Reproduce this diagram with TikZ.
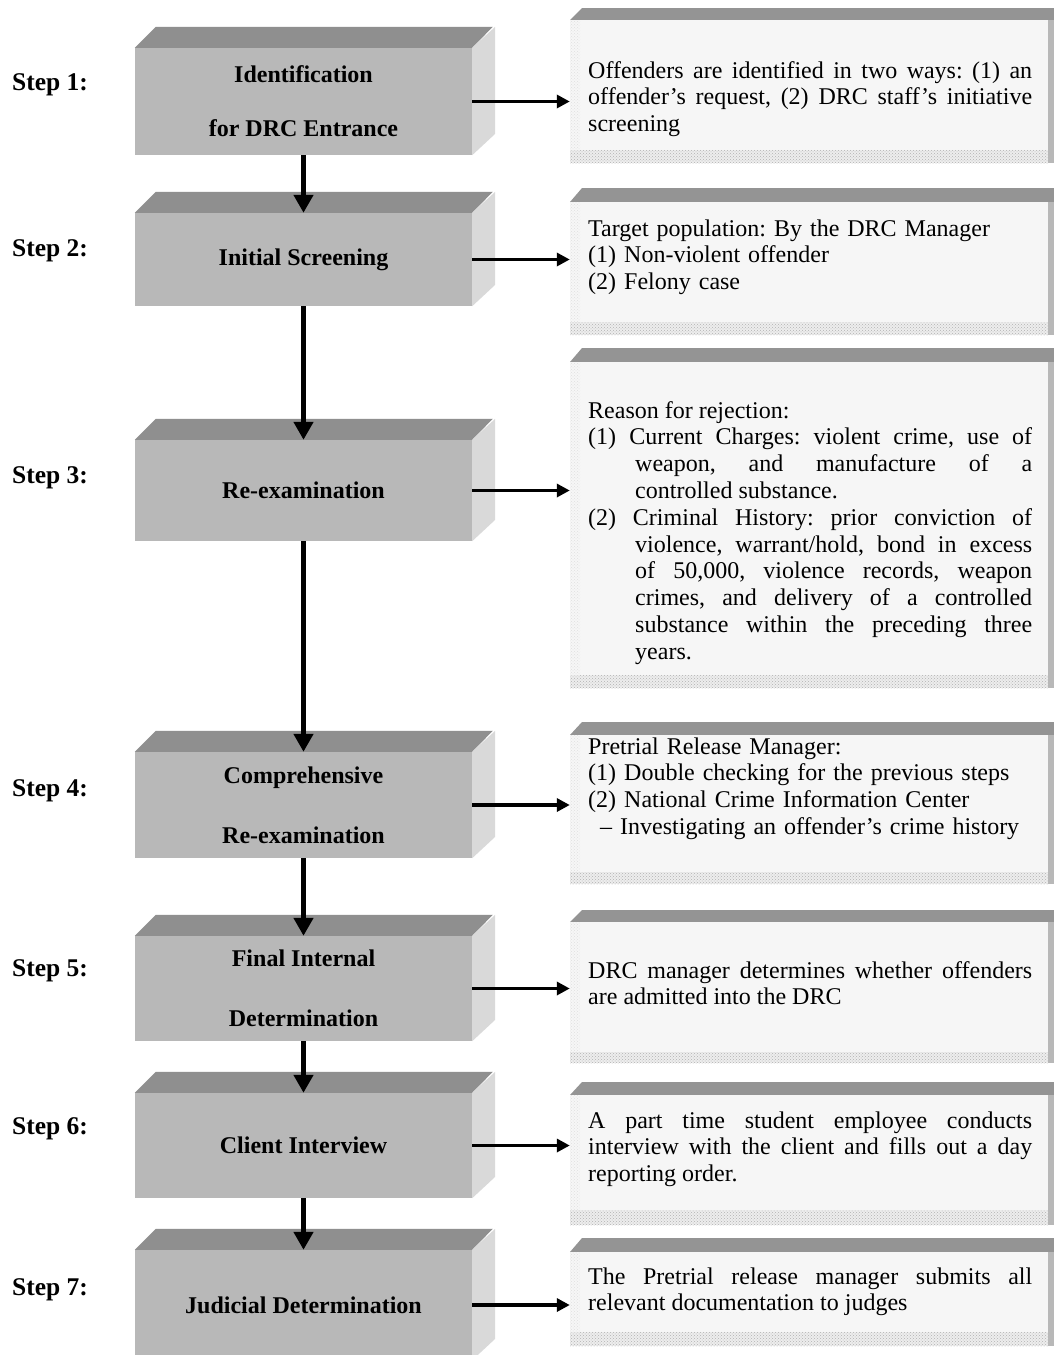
\documentclass[tikz,border=0pt]{standalone}
\usepackage{fontspec}
\setmainfont{Liberation Serif}
\usetikzlibrary{arrows.meta,patterns}
\frenchspacing
\hyphenpenalty=10000 \exhyphenpenalty=10000 \tolerance=10000 \hbadness=10000 \hfuzz=30pt
\definecolor{facec}{gray}{0.72}
\definecolor{topc}{gray}{0.56}
\definecolor{sidec}{gray}{0.85}
\definecolor{bandc}{gray}{0.58}
\definecolor{bodyc}{gray}{0.965}
\definecolor{stripc}{gray}{0.93}
\definecolor{rsidec}{gray}{0.72}
\tikzset{
  face/.style={rectangle, fill=facec, inner sep=0pt, minimum width=337pt, align=center,
    font=\fontsize{24}{28}\selectfont\bfseries},
  rbody/.style={rectangle, fill=bodyc, inner sep=0pt, minimum width=478pt},
  steplabel/.style={anchor=base west, inner sep=0pt, font=\fontsize{25.5}{30}\selectfont\bfseries},
  rtext/.style={anchor=base west, inner sep=0pt, text width=444pt, align=justify,
    font=\fontsize{24}{26.8}\selectfont\frenchspacing},
  rtextl/.style={rtext, align=left},
  varrow/.style={line width=5pt, -{Triangle[length=18pt,width=19pt]}},
  harrow/.style={line width=3.5pt, -{Triangle[length=13pt,width=13pt]}},
}
% left 3D box: name, front top, front bottom, text
\newcommand\LBox[4]{%
  \node[face, minimum height={#3-#2}] (#1) at (303.5,{(#2+#3)/2}) {#4};
  \fill[topc] (#1.north west) -- ++(21,-21) -- ++(337,0) -- (#1.north east) -- cycle;
  \fill[sidec] (#1.north east) -- ++(23,-21) -- ++(0,{#3-#2}) -- (#1.south east) -- cycle;
}
% right panel: name, band top, band bottom, strip top, strip bottom
\newcommand\RBox[5]{%
  \fill[bandc] (570,#3) -- (582,#2) -- (1054,#2) -- (1054,#3) -- cycle;
  \node[rbody, minimum height={#5-#3}] (#1) at (809,{(#3+#5)/2}) {};
  \fill[stripc] (570,#4) rectangle (1048,#5);
  \fill[pattern=crosshatch dots, pattern color=gray!60] (570,#4) rectangle (1048,#5);
  \fill[pattern=crosshatch dots, pattern color=gray!25] (570,#3) rectangle (580,#4);
  \fill[rsidec] (1048,#3) rectangle (1054,#5);
}
\begin{document}
\begin{tikzpicture}[x=1pt,y=-1pt]
\useasboundingbox (0,0) rectangle (1054,1355);
\clip (0,0) rectangle (1054,1355);
\fill[white] (0,0) rectangle (1054,1355);

% step labels
\node[steplabel] (s1) at (12,90) {Step 1:};
\node[steplabel] (s2) at (12,256) {Step 2:};
\node[steplabel] (s3) at (12,483) {Step 3:};
\node[steplabel] (s4) at (12,796) {Step 4:};
\node[steplabel] (s5) at (12,976) {Step 5:};
\node[steplabel] (s6) at (12,1134) {Step 6:};
\node[steplabel] (s7) at (12,1295) {Step 7:};

% left boxes
\LBox{b1}{48}{155}{Identification\\[26pt]for DRC Entrance}
\LBox{b2}{213}{306}{Initial Screening}
\LBox{b3}{440}{541}{Re-examination}
\LBox{b4}{752}{858}{Comprehensive\\[32pt]Re-examination}
\LBox{b5}{936}{1041}{Final Internal\\[32pt]Determination}
\LBox{b6}{1093}{1198}{Client Interview}
\LBox{b7}{1250}{1360}{Judicial Determination}

% right panels
\RBox{r1}{8}{20}{150}{163}
\RBox{r2}{188}{202}{322}{335}
\RBox{r3}{348}{362}{675}{688}
\RBox{r4}{722}{735}{872}{884}
\RBox{r5}{910}{922}{1052}{1063}
\RBox{r6}{1082}{1095}{1210}{1225}
\RBox{r7}{1238}{1252}{1332}{1346}

% right texts
\node[rtext] (t1) at (588,78) {Offenders are identified in two ways: (1) an\linebreak
  offender’s request, (2) DRC staff’s initiative\linebreak screening};
\node[rtextl] (t2) at (588,236) {Target population: By the DRC Manager\\
  (1) Non-violent offender\\(2) Felony case};
\node[rtext] (t3) at (588,418) {Reason for rejection:\par
  \hangindent=47pt\hangafter=1 (1) Current Charges: violent crime, use of\linebreak
  weapon, and manufacture of a\linebreak controlled substance.\par
  \hangindent=47pt\hangafter=1 (2) Criminal History: prior conviction of\linebreak
  violence, warrant/hold, bond in excess\linebreak of 50,000, violence records, weapon\linebreak
  crimes, and delivery of a controlled\linebreak substance within the preceding three\linebreak years.\par};
\node[rtextl] (t4) at (588,754) {Pretrial Release Manager:\\
  (1) Double checking for the previous steps\\(2) National Crime Information Center\\
  \hspace*{12pt}– Investigating an offender’s crime history};
\node[rtext] (t5) at (588,978) {DRC manager determines whether offenders\linebreak
  are admitted into the DRC};
\node[rtext] (t6) at (588,1128) {A part time student employee conducts\linebreak
  interview with the client and fills out a day\linebreak reporting order.};
\node[rtext] (t7) at (588,1284) {The Pretrial release manager submits all\linebreak
  relevant documentation to judges};

% vertical connectors
\draw[varrow] (b1.south) -- (b2.north);
\draw[varrow] (b2.south) -- (b3.north);
\draw[varrow] (b3.south) -- (b4.north);
\draw[varrow] (b4.south) -- (b5.north);
\draw[varrow] (b5.south) -- (b6.north);
\draw[varrow] (b6.south) -- (b7.north);

% horizontal connectors
\foreach \i in {1,...,7}{
  \draw[harrow] (b\i.east) -- (b\i.east -| r\i.west);
}
\end{tikzpicture}
\end{document}
